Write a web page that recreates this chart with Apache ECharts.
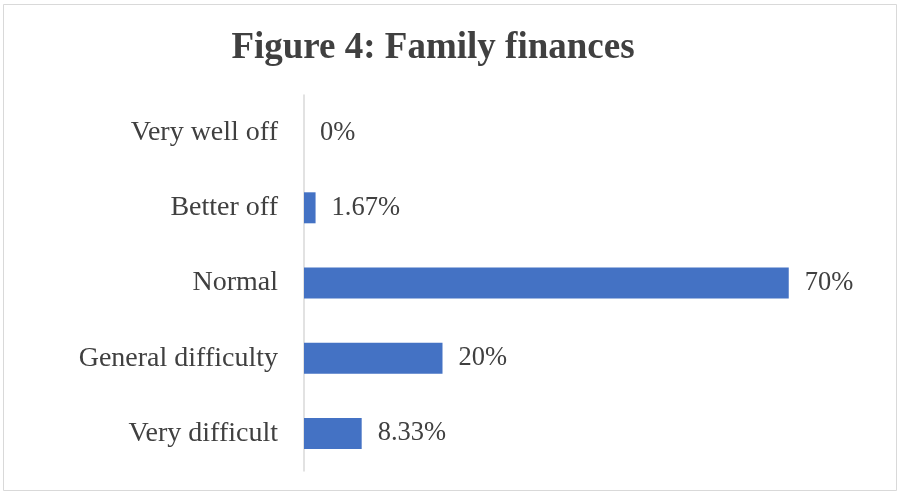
<!DOCTYPE html>
<html>
<head>
<meta charset="utf-8">
<script src="https://cdn.jsdelivr.net/npm/echarts@6/dist/echarts.min.js"></script>
<style>html,body{margin:0;padding:0;background:#fff;}#c{width:900px;height:495px;}</style>
</head>
<body>
<div id="c"></div>
<script>
var titleText = 'Figure 4: Family finances';
var categories = ['Very well off', 'Better off', 'Normal', 'General difficulty', 'Very difficult'];
var values = [0, 1.67, 70, 20, 8.33];
var valueLabels = ['0%', '1.67%', '70%', '20%', '8.33%'];

var chart = echarts.init(document.getElementById('c'));
chart.setOption({
  backgroundColor: '#ffffff',
  animation: false,
  title: {
    text: titleText,
    left: 428, top: 25, textAlign: 'center',
    textStyle: { fontFamily: 'Liberation Serif', fontWeight: 'bold', fontSize: 37, color: '#404040' }
  },
  graphic: [{
    type: 'rect', shape: { x: 3.5, y: 4.5, width: 893, height: 486 },
    style: { fill: 'none', stroke: '#d9d9d9', lineWidth: 1 }, silent: true, z: -1
  }],
  grid: { left: 304, top: 95, width: 554, height: 376, containLabel: false },
  xAxis: {
    type: 'value', min: 0, max: 80, show: false
  },
  yAxis: {
    type: 'category', data: categories, inverse: true,
    axisLine: { show: true, lineStyle: { color: '#d9d9d9', width: 1.5 } },
    axisTick: { show: false },
    axisLabel: { margin: 26, fontFamily: 'Liberation Serif', fontSize: 28, color: '#404040', padding: [8, 0, 0, 0] }
  },
  series: [{
    type: 'bar', data: values, barWidth: 31,
    itemStyle: { color: '#4472c4' },
    label: {
      show: true, position: 'right', distance: 16,
      fontFamily: 'Liberation Serif', fontSize: 26.5, color: '#404040', padding: [8, 0, 0, 0],
      formatter: function (p) { return valueLabels[p.dataIndex]; }
    }
  }]
});
</script>
</body>
</html>
